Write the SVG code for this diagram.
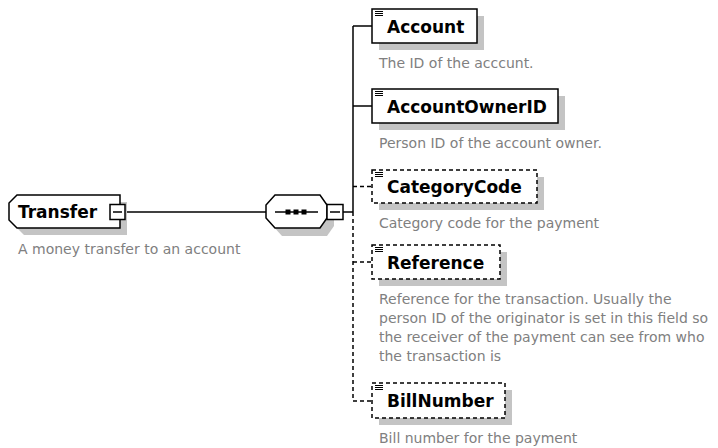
<svg xmlns="http://www.w3.org/2000/svg" width="718" height="448" viewBox="0 0 718 448">
<style>
.shadow{fill:#c4c4c4;stroke:none}
.box{fill:#fff;stroke:#000;stroke-width:1.5}
.opt{stroke-dasharray:4,3}
.lbl{font-family:"DejaVu Sans",sans-serif;font-weight:bold;font-size:17px;fill:#000}
.desc{font-family:"DejaVu Sans",sans-serif;font-size:14px;fill:#808080}
.ln{stroke:#000;stroke-width:1.5;fill:none}
.dash{stroke-dasharray:4,3}
.icon{stroke:#000;stroke-width:1}
</style>
<rect width="718" height="448" fill="#fff"/>

<g id="connectors">
  <line class="ln" x1="125" y1="212" x2="266" y2="212"/>
  <line class="ln" x1="343" y1="212" x2="353" y2="212"/>
  <line class="ln" x1="353" y1="26" x2="353" y2="212"/>
  <line class="ln dash" x1="353" y1="212" x2="353" y2="401"/>
  <line class="ln" x1="353" y1="26" x2="372" y2="26"/>
  <line class="ln" x1="353" y1="106" x2="372" y2="106"/>
  <line class="ln dash" x1="353" y1="186.5" x2="372" y2="186.5"/>
  <line class="ln dash" x1="353" y1="262" x2="372" y2="262"/>
  <line class="ln dash" x1="353" y1="401" x2="372" y2="401"/>
</g>

<g id="Transfer">
  <polygon class="shadow" points="24,202 127,202 127,235 24,235 16,227 16,210"/>
  <polygon class="box" points="17,195 120,195 120,228 17,228 9,220 9,203"/>
  <rect class="box" x="110" y="204.5" width="15" height="15"/>
  <line class="ln" x1="113" y1="212" x2="122" y2="212"/>
  <text class="lbl" x="18" y="217.5">Transfer</text>
  <text class="desc" x="18" y="254">A money transfer to an account</text>
</g>

<g id="sequence">
  <polygon class="shadow" points="282,203 327,203 334,213 334,226 327,236 282,236 273,226 273,213"/>
  <polygon class="box" points="275,195 320,195 327,205 327,218 320,228 275,228 266,218 266,205"/>
  <line class="ln" x1="275" y1="212" x2="318" y2="212"/>
  <rect x="285.5" y="209.5" width="5" height="5" fill="#000"/>
  <rect x="293.5" y="209.5" width="5" height="5" fill="#000"/>
  <rect x="301.5" y="209.5" width="5" height="5" fill="#000"/>
  <rect class="box" x="327" y="204.5" width="16" height="15"/>
  <line class="ln" x1="330" y1="212" x2="340" y2="212"/>
</g>

<g id="Account">
  <rect class="shadow" x="379" y="16" width="105" height="34"/>
  <rect class="box" x="372" y="9" width="105" height="34"/>
  <path class="icon" d="M375 11.5h8M375 13.5h8M375 15.5h8"/>
  <text class="lbl" x="387" y="33">Account</text>
  <text class="desc" x="379" y="68">The ID of the acccunt.</text>
</g>

<g id="AccountOwnerID">
  <rect class="shadow" x="379" y="96" width="186" height="34"/>
  <rect class="box" x="372" y="89" width="186" height="34"/>
  <path class="icon" d="M375 91.5h8M375 93.5h8M375 95.5h8"/>
  <text class="lbl" x="387" y="113">AccountOwnerID</text>
  <text class="desc" x="379" y="148">Person ID of the account owner.</text>
</g>

<g id="CategoryCode">
  <rect class="shadow" x="379" y="177" width="165" height="33"/>
  <rect class="box opt" x="372" y="170" width="165" height="33"/>
  <path class="icon" d="M375 172.5h8M375 174.5h8M375 176.5h8"/>
  <text class="lbl" x="387" y="193">CategoryCode</text>
  <text class="desc" x="379" y="228">Category code for the payment</text>
</g>

<g id="Reference">
  <rect class="shadow" x="379" y="252" width="128" height="34"/>
  <rect class="box opt" x="372" y="245" width="128" height="34"/>
  <path class="icon" d="M375 247.5h8M375 249.5h8M375 251.5h8"/>
  <text class="lbl" x="387" y="269">Reference</text>
  <text class="desc" x="379" y="304">Reference for the transaction. Usually the</text>
  <text class="desc" x="379" y="323">person ID of the originator is set in this field so</text>
  <text class="desc" x="379" y="342">the receiver of the payment can see from who</text>
  <text class="desc" x="379" y="361">the transaction is</text>
</g>

<g id="BillNumber">
  <rect class="shadow" x="379" y="390" width="133" height="35"/>
  <rect class="box opt" x="372" y="383" width="133" height="35"/>
  <path class="icon" d="M375 385.5h8M375 387.5h8M375 389.5h8"/>
  <text class="lbl" x="387" y="407">BillNumber</text>
  <text class="desc" x="379" y="443">Bill number for the payment</text>
</g>
</svg>
